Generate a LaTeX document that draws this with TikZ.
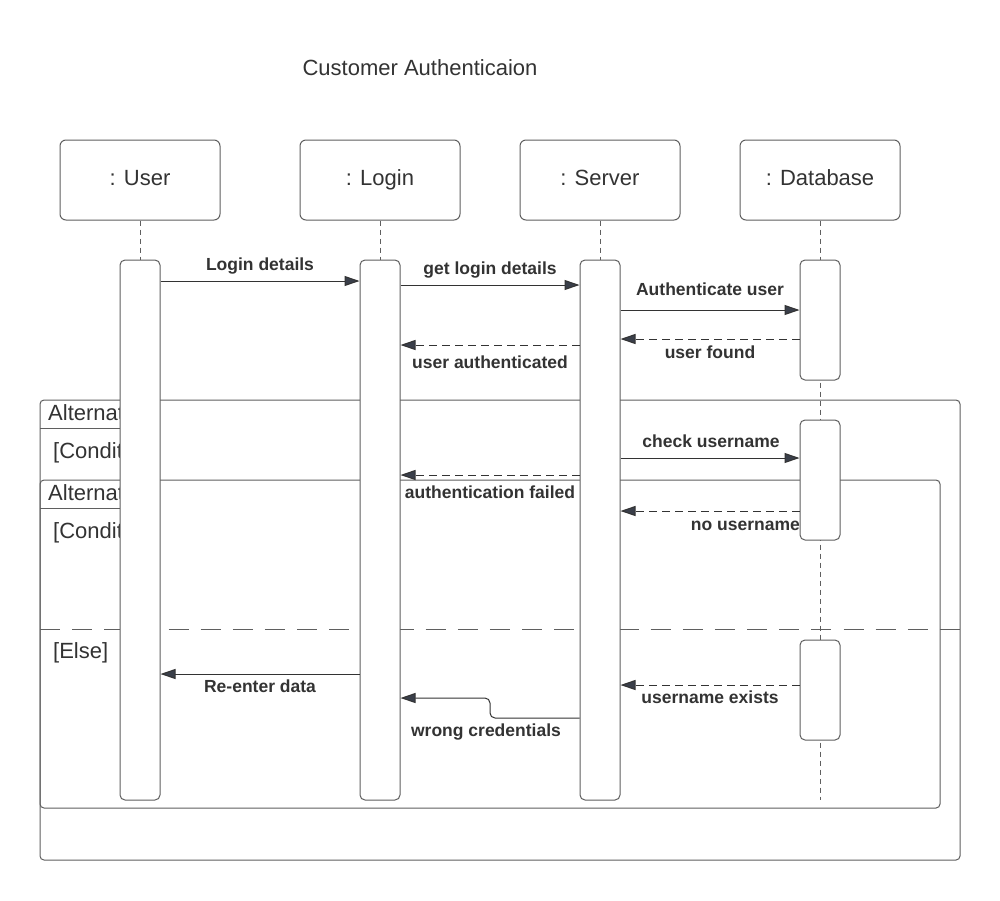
\documentclass[tikz,border=0pt]{standalone}
\usepackage{fontspec}
\setmainfont{Liberation Sans}
\usetikzlibrary{arrows.meta}
\definecolor{txt}{HTML}{333333}
\definecolor{edge}{HTML}{5F5F5F}
\definecolor{tip}{HTML}{3A3F4A}
\begin{document}
\begin{tikzpicture}[x=1pt,y=-1pt,
  head/.style={draw=edge, line width=1pt, rounded corners=6pt, fill=white, minimum width=160pt, minimum height=80pt, inner sep=0pt, text=txt, font=\fontsize{22}{26}\selectfont, text height=15.8pt, text depth=4pt},
  actbar/.style={draw=edge, line width=1pt, rounded corners=5pt, fill=white, minimum width=40pt, inner sep=0pt},
  life/.style={draw=edge, line width=0.8pt, dash pattern=on 5pt off 4pt},
  frm/.style={draw=edge, line width=1pt, rounded corners=4pt},
  msg/.style={draw=txt, line width=1pt, -{Triangle[length=15pt,width=10pt,fill=tip]}},
  ret/.style={msg, dash pattern=on 8pt off 5pt},
  lbl/.style={anchor=base, text=txt, font=\fontsize{17.5}{20}\selectfont\bfseries, inner sep=0pt},
  big/.style={anchor=base west, text=txt, font=\fontsize{22}{26}\selectfont, inner sep=0pt},
]
\useasboundingbox (0,0) rectangle (1000,900);
\fill[white] (0,0) rectangle (1000,900);

% title
\node[big, anchor=base] (title) at (420,75) {Customer Authenticaion};

% frames
\draw[frm] (40,400) rectangle (960,860);
\draw[edge, line width=1pt] (40,428) -- (140,428);
\draw[frm] (40,480) rectangle (940,808);
\draw[edge, line width=1pt] (40,508) -- (140,508);
\draw[edge, line width=1pt, dash pattern=on 20pt off 12.14pt] (40,629) -- (960,629);
\node[big] (alt1) at (48,420) {Alternative};
\node[big] (cond1) at (53,458) {[Condition]};
\node[big] (alt2) at (48,500) {Alternative};
\node[big] (cond2) at (53,538) {[Condition]};
\node[big] (else) at (53,658) {[Else]};

% heads
\node[head] (u) at (140,180) {: User};
\node[head] (l) at (380,180) {: Login};
\node[head] (s) at (600,180) {: Server};
\node[head] (d) at (820,180) {: Database};

% lifelines
\draw[life] (u.south) -- (140,800);
\draw[life] (l.south) -- (380,800);
\draw[life] (s.south) -- (600,800);
\draw[life] (d.south) -- (820,800);

% activation bars
\node[actbar, minimum height=540pt] (ub) at (140,530) {};
\node[actbar, minimum height=540pt] (lb) at (380,530) {};
\node[actbar, minimum height=540pt] (sb) at (600,530) {};
\node[actbar, minimum height=120pt] (db1) at (820,320) {};
\node[actbar, minimum height=120pt] (db2) at (820,480) {};
\node[actbar, minimum height=100pt] (db3) at (820,690) {};

% messages
\draw[msg] (ub.east |- 0,281) -- (lb.west |- 0,281);
\node[lbl] (m1) at (260,270.5) {Login details};
\draw[msg] (lb.east |- 0,285) -- (sb.west |- 0,285);
\node[lbl] (m2) at (490,274.5) {get login details};
\draw[msg] (sb.east |- 0,310) -- (db1.west |- 0,310);
\node[lbl] (m3) at (710,295.5) {Authenticate user};
\draw[ret] (db1.west |- 0,339) -- (sb.east |- 0,339);
\node[lbl] (m4) at (710,358.5) {user found};
\draw[ret] (sb.west |- 0,345) -- (lb.east |- 0,345);
\node[lbl] (m5) at (490,368.5) {user authenticated};
\draw[msg] (sb.east |- 0,458) -- (db2.west |- 0,458);
\node[lbl] (m6) at (711,447.5) {check username};
\draw[ret] (sb.west |- 0,475) -- (lb.east |- 0,475);
\node[lbl] (m7) at (490,498.5) {authentication failed};
\draw[ret] (db2.west |- 0,511) -- (sb.east |- 0,511);
\node[lbl, anchor=base east] (m8) at (800,530.5) {no username};
\draw[ret] (db3.west |- 0,685) -- (sb.east |- 0,685);
\node[lbl] (m9) at (710,703.5) {username exists};
\draw[msg] (lb.west |- 0,674) -- (ub.east |- 0,674);
\node[lbl] (m10) at (260,692.5) {Re-enter data};
\draw[msg, rounded corners=5pt] (sb.west |- 0,718) -- (490,718) -- (490,698) -- (lb.east |- 0,698);
\node[lbl] (m11) at (486,736.5) {wrong credentials};
\end{tikzpicture}
\end{document}
